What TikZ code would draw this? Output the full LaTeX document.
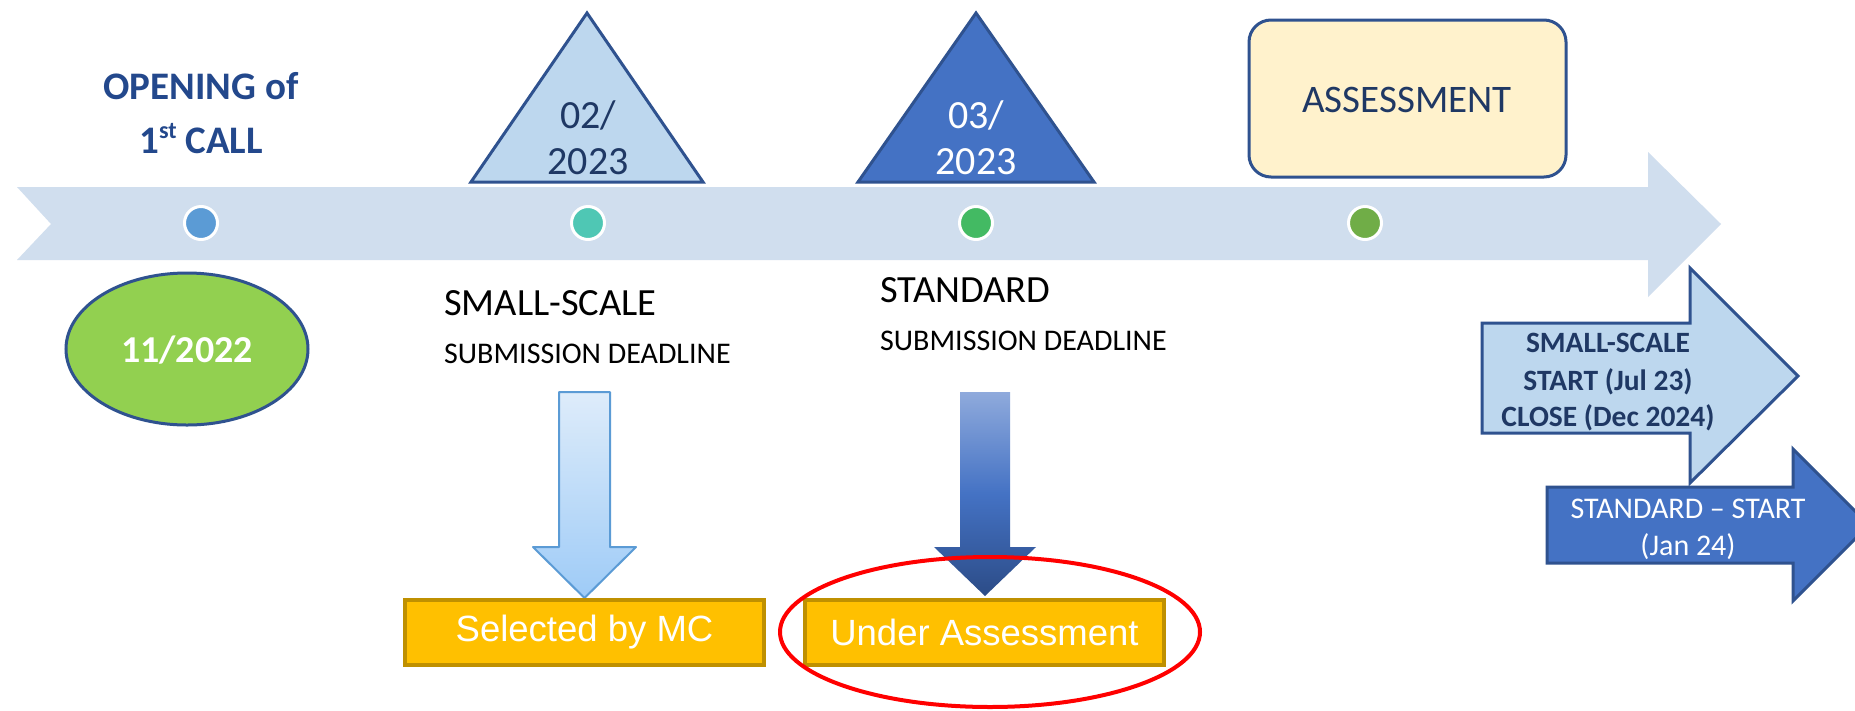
\documentclass[tikz,border=0pt]{standalone}
\usepackage{fontspec}
\setmainfont{Carlito}
\newfontfamily\arialf{Liberation Sans}
\definecolor{band}{RGB}{208,222,238}
\definecolor{dotA}{RGB}{91,155,213}
\definecolor{dotB}{RGB}{79,199,180}
\definecolor{dotC}{RGB}{67,186,99}
\definecolor{dotD}{RGB}{112,173,71}
\definecolor{navy}{RGB}{31,56,100}
\definecolor{openblue}{RGB}{35,72,140}
\definecolor{bblue}{RGB}{47,82,143}
\definecolor{triA}{RGB}{189,215,238}
\definecolor{triB}{RGB}{68,114,196}
\definecolor{assfill}{RGB}{255,242,204}
\definecolor{ellgreen}{RGB}{146,208,80}
\definecolor{gold}{RGB}{255,192,0}
\definecolor{goldb}{RGB}{191,144,0}
\definecolor{laTop}{RGB}{222,236,250}
\definecolor{laBot}{RGB}{158,203,247}
\definecolor{daTop}{RGB}{143,170,220}
\definecolor{daMid}{RGB}{68,114,196}
\definecolor{daBot}{RGB}{44,76,135}
\begin{document}
\begin{tikzpicture}[x=1pt,y=-1pt,
  txt/.style={inner sep=0pt,anchor=base},
  dotnode/.style={circle,draw=white,line width=3pt,minimum size=33pt,inner sep=0pt},
  ybox/.style={draw=goldb,fill=gold,line width=4pt,minimum width=359pt,minimum height=65pt,inner sep=0pt,text=white,font=\arialf\fontsize{36.5}{42}\selectfont},
  f40/.style={font=\fontsize{40}{46}\selectfont},
  f38/.style={font=\fontsize{38.5}{45}\selectfont},
  f30/.style={font=\fontsize{30}{36}\selectfont},
  b29/.style={font=\bfseries\fontsize{29.5}{35}\selectfont},
  b39/.style={font=\bfseries\fontsize{39}{46}\selectfont}]
\useasboundingbox (0,0) rectangle (1855,710);
\clip (0,0) rectangle (1855,710);
\fill[white] (0,0) rectangle (1855,710);

% timeline band
\fill[band] (17,187) -- (1648,187) -- (1648,152) -- (1721,224) -- (1648,297)
  -- (1648,260) -- (17,260) -- (51,224) -- cycle;

% dots
\node[dotnode,fill=dotA] (d1) at (201,223) {};
\node[dotnode,fill=dotB] (d2) at (588,223) {};
\node[dotnode,fill=dotC] (d3) at (976,223) {};
\node[dotnode,fill=dotD] (d4) at (1365,223) {};

% opening text
\node[txt,b39,text=openblue] (op1) at (201,99) {OPENING of};
\node[txt,b39,text=openblue] (op2) at (201,153) {1\raisebox{0.36em}{\fontsize{24}{24}\selectfont st} CALL};

% green ellipse
\draw[fill=ellgreen,draw=bblue,line width=3pt] (187,349) ellipse [x radius=121, y radius=76];
\node[txt,font=\bfseries\fontsize{38}{44}\selectfont,text=white] (date1) at (187,362) {11/2022};

% triangle 1
\draw[fill=triA,draw=bblue,line width=3pt,line join=miter] (587,13) -- (703,182) -- (471,182) -- cycle;
\node[txt,f40,text=navy] (t1a) at (588,128) {02/};
\node[txt,f40,text=navy] (t1b) at (588,174) {2023};

% triangle 2
\draw[fill=triB,draw=bblue,line width=3pt,line join=miter] (976,13) -- (1094,182) -- (858,182) -- cycle;
\node[txt,f40,text=white] (t2a) at (976,128) {03/};
\node[txt,f40,text=white] (t2b) at (976,174) {2023};

% assessment box
\draw[fill=assfill,draw=bblue,line width=3pt,rounded corners=22pt] (1249,20) rectangle (1566,177);
\node[txt,font=\fontsize{39}{46}\selectfont,text=navy] (ass) at (1407,112) {ASSESSMENT};

% labels under band
\node[txt,f38,anchor=base west] (ss) at (444,315) {SMALL-SCALE};
\node[txt,f30,anchor=base west] (ssd) at (444,363) {SUBMISSION DEADLINE};
\node[txt,f38,anchor=base west] (st) at (880,302) {STANDARD};
\node[txt,f30,anchor=base west] (std) at (880,350) {SUBMISSION DEADLINE};

% down arrows
\shade[top color=laTop,bottom color=laBot] (559,392) -- (610,392) -- (610,547) -- (636,547)
  -- (584.5,598) -- (533,547) -- (559,547) -- cycle;
\draw[draw=dotA,line width=2pt,line join=round] (559,392) -- (610,392) -- (610,547) -- (636,547)
  -- (584.5,598) -- (533,547) -- (559,547) -- cycle;
\shade[top color=daTop,bottom color=daBot,middle color=daMid] (960,392) -- (1010,392) -- (1010,547) -- (1036,547)
  -- (985,596) -- (934,547) -- (960,547) -- cycle;

% result boxes
\node[ybox] (sel) at (584.5,632.5) {Selected by MC};
\node[ybox] (und) at (984.5,632.5) {Under Assessment};
\draw[red,line width=4pt] (990,632) ellipse [x radius=210, y radius=75];

% right arrows
\draw[fill=triA,draw=bblue,line width=3pt,line join=miter] (1482,323) -- (1690,323) -- (1690,268)
  -- (1798,376) -- (1690,483) -- (1690,433) -- (1482,433) -- cycle;
\node[txt,b29,text=navy] (a1) at (1608,352) {SMALL-SCALE};
\node[txt,b29,text=navy] (a2) at (1608,390) {START (Jul 23)};
\node[txt,b29,text=navy] (a3) at (1608,426) {CLOSE (Dec 2024)};
\draw[fill=triB,draw=bblue,line width=3pt,line join=miter] (1547,487) -- (1793,487) -- (1793,449)
  -- (1869,525) -- (1793,601) -- (1793,563) -- (1547,563) -- cycle;
\node[txt,f30,text=white] (b1) at (1688,518) {STANDARD – START};
\node[txt,f30,text=white] (b2) at (1688,555) {(Jan 24)};
\end{tikzpicture}
\end{document}
